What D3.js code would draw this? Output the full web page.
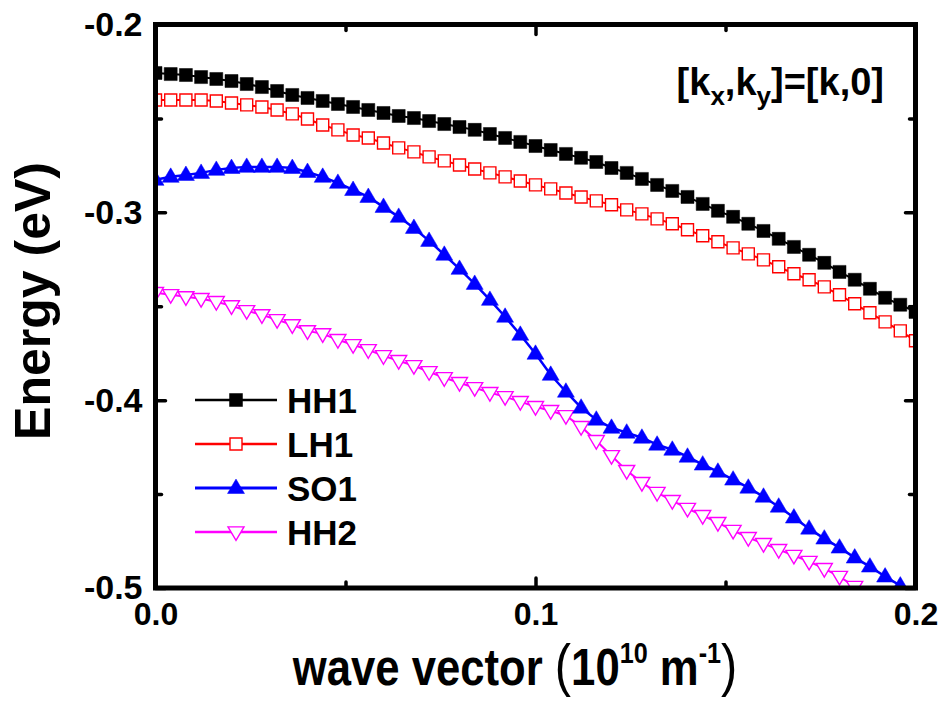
<!DOCTYPE html>
<html>
<head>
<meta charset="utf-8">
<script src="https://cdn.jsdelivr.net/npm/d3@7"></script>
<style>
  html, body { margin: 0; padding: 0; background: #fff; }
  svg { display: block; }
  text { font-family: "Liberation Sans", Arial, sans-serif; font-weight: bold; }
</style>
</head>
<body>
<svg id="chart" width="946" height="706"></svg>
<script>
// ---- data ----
const kStep = 0.004;
const kValues = d3.range(51).map(i => +(i * kStep).toFixed(3));

const HH1 = [-0.2258,-0.2264,-0.2269,-0.2280,-0.2290,-0.2301,-0.2317,-0.2333,-0.2354,-0.2375,
  -0.2391,-0.2407,-0.2423,-0.2439,-0.2455,-0.2471,-0.2487,-0.2498,-0.2514,-0.2530,
  -0.2546,-0.2561,-0.2583,-0.2604,-0.2625,-0.2647,-0.2668,-0.2689,-0.2710,-0.2732,
  -0.2764,-0.2790,-0.2822,-0.2854,-0.2886,-0.2918,-0.2955,-0.2992,-0.3024,-0.3061,
  -0.3099,-0.3141,-0.3184,-0.3226,-0.3269,-0.3317,-0.3359,-0.3407,-0.3455,-0.3492,-0.3530];

const LH1 = [-0.2402,-0.2402,-0.2402,-0.2402,-0.2407,-0.2418,-0.2428,-0.2439,-0.2455,-0.2476,
  -0.2503,-0.2535,-0.2561,-0.2588,-0.2604,-0.2631,-0.2657,-0.2678,-0.2705,-0.2726,
  -0.2748,-0.2769,-0.2790,-0.2811,-0.2833,-0.2854,-0.2875,-0.2897,-0.2918,-0.2939,
  -0.2960,-0.2987,-0.3008,-0.3035,-0.3061,-0.3093,-0.3125,-0.3157,-0.3189,-0.3221,
  -0.3253,-0.3290,-0.3327,-0.3359,-0.3397,-0.3439,-0.3487,-0.3535,-0.3583,-0.3631,-0.3684];

const SO1 = [-0.2827,-0.2811,-0.2801,-0.2790,-0.2774,-0.2764,-0.2758,-0.2758,-0.2758,-0.2764,
  -0.2785,-0.2811,-0.2843,-0.2881,-0.2918,-0.2971,-0.3024,-0.3083,-0.3152,-0.3226,
  -0.3301,-0.3381,-0.3466,-0.3556,-0.3652,-0.3753,-0.3865,-0.3955,-0.4040,-0.4104,
  -0.4147,-0.4173,-0.4200,-0.4237,-0.4264,-0.4301,-0.4343,-0.4381,-0.4423,-0.4466,
  -0.4514,-0.4567,-0.4625,-0.4684,-0.4737,-0.4785,-0.4838,-0.4886,-0.4939,-0.4987,-0.5035];

const HH2 = [-0.3428,-0.3439,-0.3450,-0.3460,-0.3476,-0.3498,-0.3524,-0.3546,-0.3572,-0.3599,
  -0.3631,-0.3647,-0.3678,-0.3705,-0.3732,-0.3764,-0.3790,-0.3817,-0.3849,-0.3881,
  -0.3907,-0.3934,-0.3960,-0.3982,-0.4008,-0.4035,-0.4056,-0.4083,-0.4141,-0.4216,
  -0.4296,-0.4375,-0.4439,-0.4492,-0.4535,-0.4577,-0.4615,-0.4652,-0.4694,-0.4732,
  -0.4764,-0.4796,-0.4827,-0.4859,-0.4897,-0.4939,-0.4992,-0.5046,-0.5099,-0.5152,-0.5205];

const seriesNames = ["HH1", "LH1", "SO1", "HH2"];
const xMajorTicks = [0.0, 0.1, 0.2];
const xMinorTicks = [0.05, 0.15];
const yMajorTicks = [-0.2, -0.3, -0.4, -0.5];
const yMinorTicks = [-0.25, -0.35, -0.45];
const xTitle = "wave vector";
const yTitle = "Energy (eV)";

// ---- layout ----
const L = 155.5, R = 915.5, T = 24.5, B = 588;
const svg = d3.select("#chart");
const x = d3.scaleLinear().domain([0, 0.2]).range([L, R]);
const y = d3.scaleLinear().domain([-0.5, -0.2]).range([B, T]);

const styles = {
  HH1: { color: "#000000", shape: "square", fill: "#000000", size: 13, lw: 2 },
  LH1: { color: "#ff0000", shape: "square", fill: "#ffffff", size: 12, lw: 2 },
  SO1: { color: "#0000ff", shape: "up", fill: "#0000ff", size: 17, lw: 2.5 },
  HH2: { color: "#ff00ff", shape: "down", fill: "#ffffff", size: 16, lw: 2 }
};
const dataMap = { HH1, LH1, SO1, HH2 };

function markerPath(shape, s) {
  if (shape === "square") {
    const h = s / 2;
    return `M${-h},${-h}H${h}V${h}H${-h}Z`;
  }
  const w = s / 2, hh = s * 0.85;
  if (shape === "up") return `M0,${-hh * 0.62}L${w},${hh * 0.38}L${-w},${hh * 0.38}Z`;
  return `M0,${hh * 0.62}L${w},${-hh * 0.38}L${-w},${-hh * 0.38}Z`;
}

svg.append("defs").append("clipPath").attr("id", "plotclip")
  .append("rect").attr("x", L).attr("y", T).attr("width", R - L).attr("height", B - T);

const plot = svg.append("g").attr("clip-path", "url(#plotclip)");
const line = d3.line().x(d => x(d[0])).y(d => y(d[1]));

const drawOrder = ["HH1", "LH1", "HH2", "SO1"];
drawOrder.forEach(name => {
  const st = styles[name];
  const pts = kValues.map((k, i) => [k, dataMap[name][i]]);
  plot.append("path").datum(pts)
    .attr("d", line).attr("fill", "none")
    .attr("stroke", st.color).attr("stroke-width", st.lw);
  plot.append("g").selectAll("path").data(pts).join("path")
    .attr("transform", d => `translate(${x(d[0])},${y(d[1])})`)
    .attr("d", markerPath(st.shape, st.size))
    .attr("fill", st.fill)
    .attr("stroke", st.color)
    .attr("stroke-width", st.fill === "#ffffff" ? 1.4 : 0.5);
});

// ---- axes ----
function styleAxis(g, fontSize) {
  g.select(".domain").remove();
  g.selectAll(".tick line").attr("stroke", "#000").attr("stroke-width", 3.5).attr("stroke-linecap", "round");
  g.selectAll(".tick text").attr("fill", "#000").style("font-size", fontSize + "px")
    .style("font-family", '"Liberation Sans", Arial, sans-serif').style("font-weight", "bold");
}
const fmt = v => d3.format(".1f")(v).replace("\u2212", "-");

svg.append("g").attr("transform", `translate(0,${B})`)
  .call(d3.axisBottom(x).tickValues(xMajorTicks).tickSize(-10).tickPadding(14).tickFormat(fmt))
  .call(g => styleAxis(g, 32));
svg.append("g").attr("transform", `translate(0,${B})`)
  .call(d3.axisBottom(x).tickValues(xMinorTicks).tickSize(-6).tickFormat(""))
  .call(g => styleAxis(g, 32));
svg.append("g").attr("transform", `translate(0,${T})`)
  .call(d3.axisTop(x).tickValues(xMajorTicks).tickSize(-10).tickFormat(""))
  .call(g => styleAxis(g, 32));
svg.append("g").attr("transform", `translate(0,${T})`)
  .call(d3.axisTop(x).tickValues(xMinorTicks).tickSize(-6).tickFormat(""))
  .call(g => styleAxis(g, 32));

svg.append("g").attr("transform", `translate(${L},0)`)
  .call(d3.axisLeft(y).tickValues(yMajorTicks).tickSize(-10).tickPadding(13).tickFormat(fmt))
  .call(g => styleAxis(g, 34));
svg.append("g").attr("transform", `translate(${L},0)`)
  .call(d3.axisLeft(y).tickValues(yMinorTicks).tickSize(-6).tickFormat(""))
  .call(g => styleAxis(g, 34));
svg.append("g").attr("transform", `translate(${R},0)`)
  .call(d3.axisRight(y).tickValues(yMajorTicks).tickSize(-10).tickFormat(""))
  .call(g => styleAxis(g, 34));
svg.append("g").attr("transform", `translate(${R},0)`)
  .call(d3.axisRight(y).tickValues(yMinorTicks).tickSize(-6).tickFormat(""))
  .call(g => styleAxis(g, 34));

svg.append("rect").attr("x", L).attr("y", T).attr("width", R - L).attr("height", B - T)
  .attr("fill", "none").attr("stroke", "#000").attr("stroke-width", 5);

// ---- titles ----
const xt = svg.append("g").attr("transform", `translate(515,685) scale(0.84,1)`)
  .append("text").attr("text-anchor", "middle").style("font-size", "52px").attr("fill", "#000");
xt.append("tspan").text(xTitle + " ");
xt.append("tspan").style("font-weight", "normal").style("font-size", "58px").text("(");
xt.append("tspan").text("10");
xt.append("tspan").attr("dy", -22).style("font-size", "30px").text("10");
xt.append("tspan").attr("dy", 22).text(" m");
xt.append("tspan").attr("dy", -22).style("font-size", "30px").text("-1");
xt.append("tspan").attr("dy", 22).style("font-weight", "normal").style("font-size", "58px").text(")");

svg.append("text").attr("transform", "translate(50,301) rotate(-90)")
  .attr("text-anchor", "middle").style("font-size", "50px").attr("fill", "#000").text(yTitle);

// annotation
const ann = svg.append("text").attr("x", 884).attr("y", 95).attr("text-anchor", "end")
  .style("font-size", "38px").attr("fill", "#000");
ann.append("tspan").text("[k");
ann.append("tspan").attr("dy", 10).style("font-size", "26px").text("x");
ann.append("tspan").attr("dy", -10).text(",k");
ann.append("tspan").attr("dy", 10).style("font-size", "26px").text("y");
ann.append("tspan").attr("dy", -10).text("]=[k,0]");

// ---- legend ----
const legend = svg.append("g");
const legY0 = 400, legDy = 44;
seriesNames.forEach((name, i) => {
  const st = styles[name];
  const ly = legY0 + i * legDy;
  legend.append("line").attr("x1", 195).attr("x2", 277).attr("y1", ly).attr("y2", ly)
    .attr("stroke", st.color).attr("stroke-width", st.lw + 0.5);
  legend.append("path").attr("transform", `translate(236,${ly})`)
    .attr("d", markerPath(st.shape, st.size))
    .attr("fill", st.fill).attr("stroke", st.color)
    .attr("stroke-width", st.fill === "#ffffff" ? 1.4 : 0.5);
  legend.append("text").attr("x", 287).attr("y", ly + 12.5)
    .style("font-size", "35px").attr("fill", "#000").text(name);
});
</script>
</body>
</html>
